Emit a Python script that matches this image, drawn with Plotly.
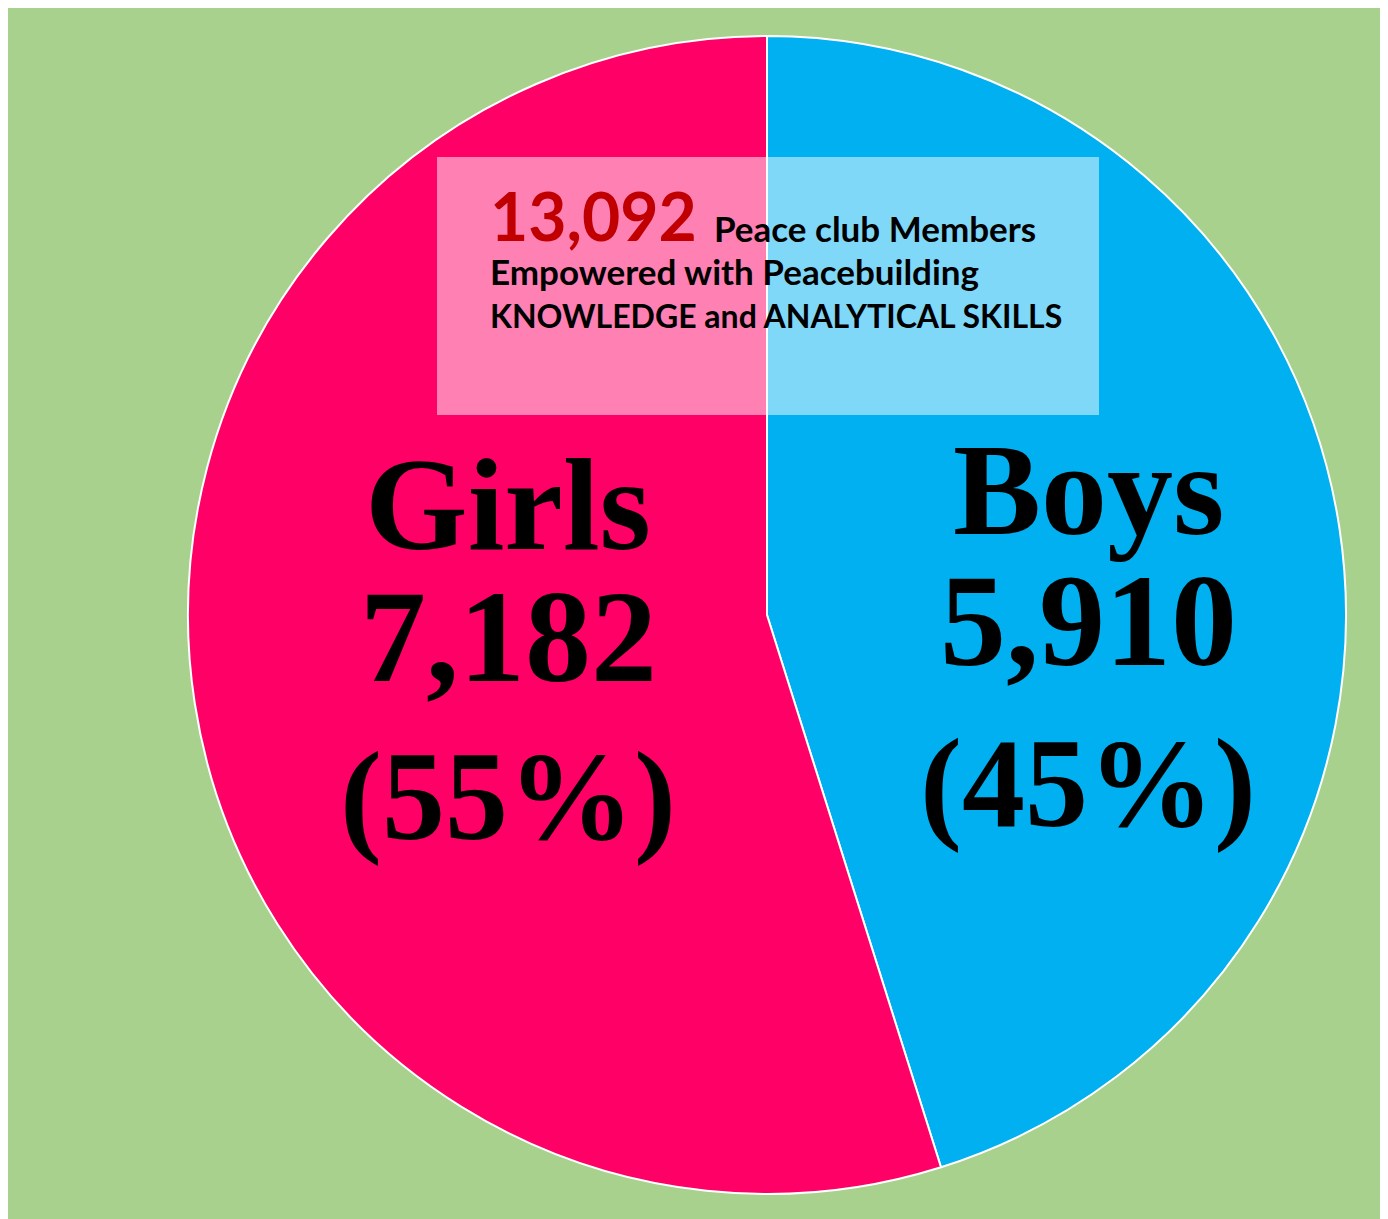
import plotly.graph_objects as go

# Data
tLabels = ["Boys", "Girls"]
tValues = [5910, 7182]
tPercents = ["45%", "55%"]
tColors = ["#00B0F0", "#FF0066"]
tTotal = "13,092"
tHeadline = ["Peace club Members", "Empowered with Peacebuilding", "KNOWLEDGE and ANALYTICAL SKILLS"]

# The page body has an 8px margin, so the figure is drawn 8px smaller and all
# reference coordinates are shifted by that offset.
OFF = 8
W, H = 1388 - OFF, 1219 - OFF
CX, CY, R = 767, 615, 579


def _px(x):
    return (x - OFF) / W


def _py(y):
    return 1 - (y - OFF) / H


fig = go.Figure()
fig.add_trace(
    go.Pie(
        labels=tLabels,
        values=tValues,
        sort=False,
        direction="clockwise",
        rotation=0,
        marker=dict(colors=tColors, line=dict(color="white", width=2)),
        textinfo="none",
        hoverinfo="label+value+percent",
        showlegend=False,
        domain=dict(x=[_px(CX - R), _px(CX + R)], y=[_py(CY + R), _py(CY - R)]),
    )
)

# Big serif labels inside each slice (one annotation per line)
tLabelPos = {"Girls": (508, [505, 636, 797]), "Boys": (1088, [490, 620, 784])}
tLineSizes = [132, 132, 126]
for tI, tLabel in enumerate(tLabels):
    tX, tYs = tLabelPos[tLabel]
    tLines = ["<b>" + tLabel + "</b>", "<b>" + format(tValues[tI], ",") + "</b>", "<b>(" + tPercents[tI] + ")</b>"]
    for tLine, tY, tSize in zip(tLines, tYs, tLineSizes):
        fig.add_annotation(
            x=_px(tX), y=_py(tY), xref="paper", yref="paper",
            text=tLine, showarrow=False, xanchor="center", yanchor="middle",
            font=dict(family="Liberation Serif", size=tSize, color="black"),
        )

# Headline box text
tSans = "Lato"
fig.add_annotation(
    x=_px(488), y=_py(242), xref="paper", yref="paper", text="<b>" + tTotal + "</b>",
    showarrow=False, xanchor="left", yanchor="bottom", yshift=-15,
    font=dict(family=tSans, size=66, color="#C00000"),
)
tLineY = [242, 285, 328]
tLineX = [712, 488, 488]
tHeadSizes = [35, 35, 32]
for tText, tX, tY, tSize in zip(tHeadline, tLineX, tLineY, tHeadSizes):
    fig.add_annotation(
        x=_px(tX), y=_py(tY), xref="paper", yref="paper", text="<b>" + tText + "</b>",
        showarrow=False, xanchor="left", yanchor="bottom", yshift=-9,
        font=dict(family=tSans, size=tSize, color="black"),
    )

fig.update_layout(
    width=W,
    height=H,
    margin=dict(l=0, r=0, t=0, b=0),
    paper_bgcolor="#A9D18E",
    plot_bgcolor="#A9D18E",
    shapes=[
        dict(type="rect", xref="paper", yref="paper", x0=_px(437), x1=_px(1099), y0=_py(415), y1=_py(157),
             fillcolor="rgba(255,255,255,0.5)", line=dict(width=0), layer="above"),
    ],
)

fig.write_html("out.html")
